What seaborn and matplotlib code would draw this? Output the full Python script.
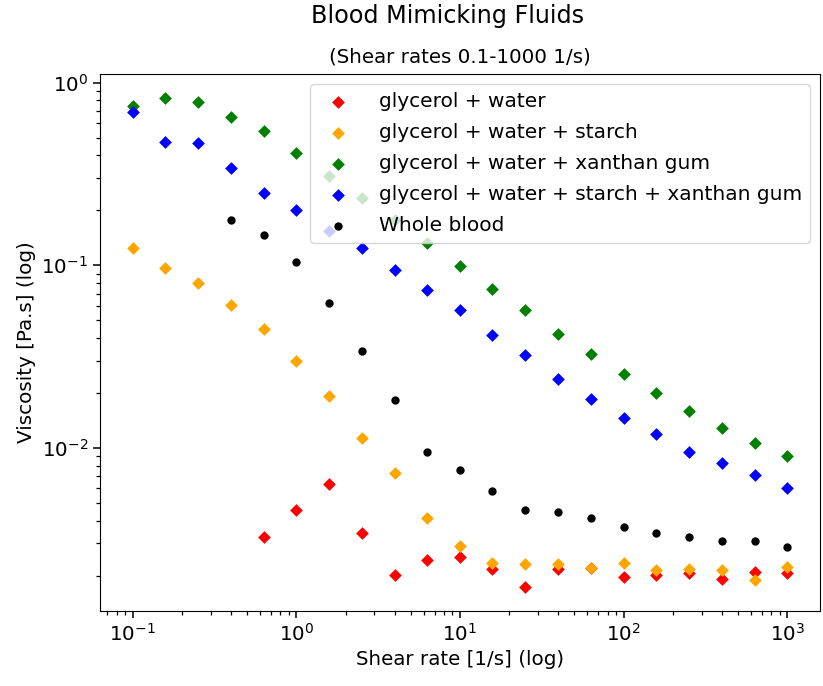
import matplotlib
matplotlib.use("Agg")
import matplotlib.pyplot as plt
import numpy as np
import pandas as pd
import seaborn as sns

# shear rates, 5 points per decade from 0.1 to 1000 1/s
shear = [0.1, 0.158, 0.251, 0.398, 0.631, 1.0, 1.58, 2.51, 3.98, 6.31,
         10.0, 15.8, 25.1, 39.8, 63.1, 100.0, 158.0, 251.0, 398.0, 631.0, 1000.0]

# viscosities [Pa.s]
glyc_water = [None, None, None, None, 0.00327, 0.00458, 0.00636, 0.00343, 0.00202, 0.00244,
              0.00254, 0.00218, 0.00174, 0.00218, 0.00221, 0.00197, 0.00202, 0.00207,
              0.00192, 0.0021, 0.00207]
glyc_water_starch = [0.124, 0.0964, 0.0798, 0.0604, 0.0447, 0.0299, 0.0192, 0.01134, 0.0073,
                     0.00414, 0.00291, 0.00235, 0.0023, 0.00232, 0.00221, 0.00235, 0.00215,
                     0.00218, 0.00215, 0.0019, 0.00224]
glyc_water_xanthan = [0.74, 0.82, 0.78, 0.65, 0.54, 0.41, 0.306, 0.232, 0.176, 0.132,
                      0.099, 0.074, 0.0567, 0.042, 0.0327, 0.0254, 0.020, 0.0159,
                      0.01285, 0.0106, 0.00904]
glyc_water_starch_xanthan = [0.686, 0.47, 0.464, 0.339, 0.247, 0.2, 0.153, 0.124, 0.094, 0.073,
                             0.0568, 0.0414, 0.0322, 0.0238, 0.0185, 0.0146, 0.0119, 0.0095,
                             0.00828, 0.00711, 0.00604]
whole_blood = [None, None, None, 0.176, 0.146, 0.104, 0.062, 0.0339, 0.0183, 0.0095,
               0.00758, 0.00582, 0.00458, 0.00447, 0.00414, 0.0037, 0.00343, 0.00327,
               0.0031, 0.0031, 0.00288]

series = [
    ("glycerol + water", glyc_water, "red", "D"),
    ("glycerol + water + starch", glyc_water_starch, "orange", "D"),
    ("glycerol + water + xanthan gum", glyc_water_xanthan, "green", "D"),
    ("glycerol + water + starch + xanthan gum", glyc_water_starch_xanthan, "blue", "D"),
    ("Whole blood", whole_blood, "black", "o"),
]

fs = 14.3  # base font size

fig = plt.figure(figsize=(8.23, 6.86), dpi=100)
ax = fig.add_axes([0.1215, 0.1093, 0.8748, 0.783])

for label, vals, col, mk in series:
    df = pd.DataFrame({"shear": shear, "visc": vals}).dropna()
    sns.scatterplot(data=df, x="shear", y="visc", color=col, marker=mk,
                    s=42 if mk == "D" else 36, linewidth=0, label=label, ax=ax)

ax.set_xscale("log")
ax.set_yscale("log")
ax.tick_params(labelsize=fs, length=5, width=1.1)
ax.tick_params(which="minor", length=3, width=0.9)
ax.set_xlabel("Shear rate [1/s] (log)", fontsize=fs)
ax.set_ylabel("Viscosity [Pa.s] (log)", fontsize=fs)
ax.set_title("(Shear rates 0.1-1000 1/s)", fontsize=fs, pad=8)
fig.suptitle("Blood Mimicking Fluids", fontsize=17.2, x=0.544, y=0.976, va="center")
ax.legend(loc="upper right", fontsize=14.5, labelspacing=0.6, handletextpad=1.0)

fig.savefig("out.png", dpi=100)
